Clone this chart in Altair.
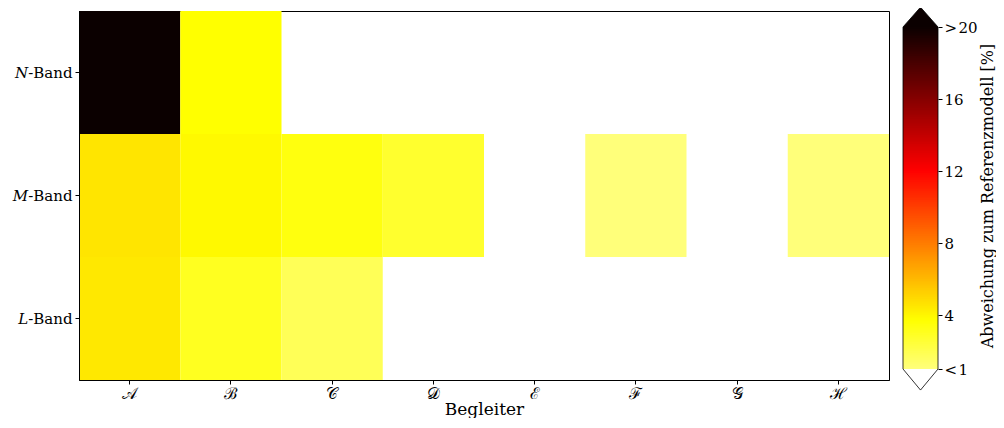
import altair as alt
import pandas as pd
import numpy as np

# ---- data ----
companions = ["𝒜", "ℬ", "𝒞", "𝒟", "ℰ", "ℱ", "𝒢", "ℋ"]
bands = ["𝑁-Band", "𝑀-Band", "𝐿-Band"]
n_band = [25.0, 3.7, None, None, None, None, None, None]
m_band = [4.55, 3.9, 3.4, 2.7, None, 1.05, None, 1.05]
l_band = [4.45, 3.0, 1.8, None, None, None, None, None]

# colour map (truncated hot_r), stops in data units
cmap_values = [1.0, 3.71, 12.03, 20.0]
cmap_colors = ["#ffff7c", "#ffff00", "#ff0000", "#0b0000"]
tick_values = [1, 4, 8, 12, 16, 20]
cbar_min, cbar_max = 1.0, 20.0
cbar_domain = [0.389, 20.889]
top_apex, bottom_apex = 21.1, -0.17

FONT = "DejaVu Serif"

rows = []
for band, vals in zip(bands, [n_band, m_band, l_band]):
    for comp, v in zip(companions, vals):
        if v is not None:
            rows.append({"band": band, "comp": comp, "val": v})
df = pd.DataFrame(rows)

color_scale = alt.Scale(domain=cmap_values, range=cmap_colors,
                        interpolate="rgb", clamp=True)

heat = alt.Chart(df).mark_rect().encode(
    x=alt.X("comp:N", sort=companions,
            scale=alt.Scale(domain=companions, paddingInner=0, paddingOuter=0),
            axis=alt.Axis(title="Begleiter", labelAngle=0, labelFontSize=16,
                          titlePadding=0, labelPadding=1)),
    y=alt.Y("band:N", sort=bands,
            scale=alt.Scale(domain=bands, paddingInner=0, paddingOuter=0),
            axis=alt.Axis(title=None, labelPadding=3)),
    color=alt.Color("val:Q", scale=color_scale, legend=None),
).properties(width=810, height=369,
             view=alt.ViewBackground(stroke="black", strokeWidth=1))

# ---- colour bar ----
lo = np.round(np.arange(cbar_min, cbar_max, 0.1), 2)
cb_df = pd.DataFrame({"y": lo, "y2": np.minimum(lo + 0.15, cbar_max),
                      "mid": lo + 0.05, "x": 0.0, "x2": 1.0})

yscale = alt.Scale(domain=cbar_domain, nice=False, zero=False)
xscale = alt.Scale(domain=[0, 1], nice=False, zero=False)
cb_axis = alt.Axis(orient="right", values=tick_values, domain=False,
                   grid=False,
                   labelExpr="datum.value == 1 ? '<\u200a1' : datum.value == 20 ? '>\u200a20' : datum.label",
                   title="Abweichung zum Referenzmodell [%]",
                   titleAngle=270, titleBaseline="top", titleFontSize=16,
                   titlePadding=2, labelPadding=2)

strip = alt.Chart(cb_df).mark_rect().encode(
    x=alt.X("x:Q", scale=xscale, axis=None),
    x2="x2:Q",
    y=alt.Y("y:Q", scale=yscale, axis=cb_axis),
    y2="y2:Q",
    color=alt.Color("mid:Q", scale=color_scale, legend=None),
)

top_tri = pd.DataFrame({"x": [0, 0.5, 1], "y": [cbar_max, top_apex, cbar_max],
                        "y2": [cbar_max] * 3})
bot_tri = pd.DataFrame({"x": [0, 0.5, 1], "y": [cbar_min, bottom_apex, cbar_min],
                        "y2": [cbar_min] * 3})

top_area = alt.Chart(top_tri).mark_area(color="#0b0000").encode(
    x=alt.X("x:Q", scale=xscale, axis=None),
    y=alt.Y("y:Q", scale=yscale, axis=cb_axis), y2="y2:Q")
bot_area = alt.Chart(bot_tri).mark_area(color="white").encode(
    x=alt.X("x:Q", scale=xscale, axis=None),
    y=alt.Y("y:Q", scale=yscale, axis=cb_axis), y2="y2:Q")

outline_df = pd.DataFrame({
    "x": [0, 0, 0.5, 1, 1, 0.5, 0],
    "y": [cbar_min, cbar_max, top_apex, cbar_max, cbar_min, bottom_apex, cbar_min],
    "o": list(range(7)),
})
outline = alt.Chart(outline_df).mark_line(color="black", strokeWidth=0.8).encode(
    x=alt.X("x:Q", scale=xscale, axis=None),
    y=alt.Y("y:Q", scale=yscale, axis=cb_axis),
    order="o:Q")

cbar = alt.layer(strip, top_area, bot_area, outline).properties(
    width=35, height=369)

chart = alt.hconcat(heat, cbar, spacing=10).properties(
    padding={"left": 3, "top": -3, "right": 0, "bottom": 0}
).configure_view(stroke="transparent").configure_axis(
    labelFont=FONT, titleFont=FONT, labelFontSize=15, titleFontSize=17,
    labelColor="black", titleColor="black", titleFontWeight="normal",
    domainColor="black", tickColor="black", tickSize=4, tickWidth=1,
    grid=False,
)

chart.save("out.html", embed_options={"renderer": "svg", "actions": False})
